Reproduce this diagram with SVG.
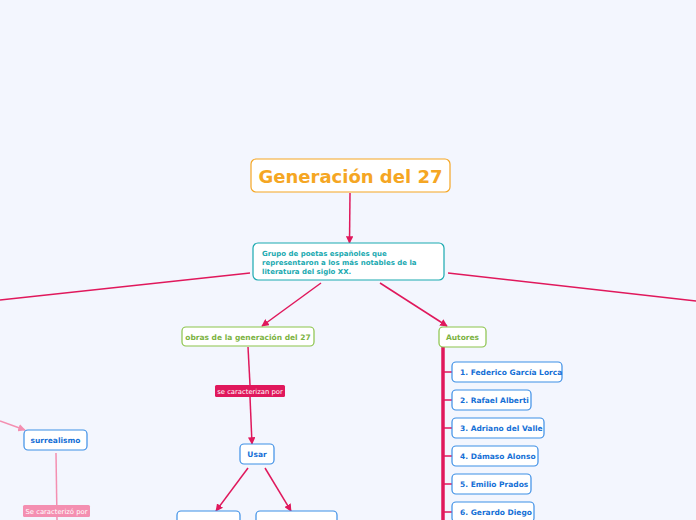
<svg xmlns="http://www.w3.org/2000/svg" width="696" height="520" viewBox="0 0 696 520">
<style>
text{font-family:"DejaVu Sans",Verdana,sans-serif;font-weight:bold}
.b{fill:#fff;stroke:#3d8fe6;stroke-width:1.2}
.bt{fill:#1570d6;font-size:7.5px}
.c{stroke:#e0185c;stroke-width:1.5;fill:none}
.p{stroke:#f48fb1;stroke-width:1.5;fill:none}
</style>
<defs>
<marker id="a" viewBox="0 0 10 10" refX="9" refY="5" markerWidth="5" markerHeight="5" orient="auto"><path d="M0,0L10,5L0,10z" fill="#e0185c"/></marker>
<marker id="ap" viewBox="0 0 10 10" refX="9" refY="5" markerWidth="5" markerHeight="5" orient="auto"><path d="M0,0L10,5L0,10z" fill="#f48fb1"/></marker>
</defs>
<rect width="696" height="520" fill="#f3f6fe"/>
<g id="connectors">
<line class="c" x1="350" y1="193" x2="349.5" y2="243" marker-end="url(#a)"/>
<line class="c" x1="250" y1="273" x2="0" y2="300"/>
<line class="c" x1="448" y1="273" x2="696" y2="301"/>
<line class="c" x1="321" y1="283" x2="262" y2="326" marker-end="url(#a)"/>
<line class="c" x1="380" y1="283" x2="447" y2="326" marker-end="url(#a)"/>
<line class="c" x1="248" y1="347" x2="250" y2="385"/>
<line class="c" x1="250" y1="397" x2="252" y2="444" marker-end="url(#a)"/>
<line class="c" x1="248" y1="468" x2="216" y2="511" marker-end="url(#a)"/>
<line class="c" x1="265" y1="468" x2="291" y2="511" marker-end="url(#a)"/>
<line stroke="#e0185c" stroke-width="3.5" x1="443" y1="347" x2="443" y2="520"/>
<path class="c" d="M443,372h9M443,400h9M443,428h9M443,456h9M443,484h9M443,512h9"/>
<line class="p" x1="0" y1="421" x2="25" y2="430" marker-end="url(#ap)"/>
<line class="p" x1="56" y1="453" x2="57" y2="520"/>
</g>
<g id="title"><rect x="251" y="159" width="199" height="33" rx="5" fill="#fff" stroke="#f5a623" stroke-width="1.2"/><text x="350.5" y="183" text-anchor="middle" font-size="18" fill="#f5a623">Generación del 27</text></g>
<g id="grupo"><rect x="253" y="243" width="191" height="37" rx="5" fill="#fff" stroke="#1aa9b0" stroke-width="1.2"/><text x="262" y="256" font-size="7" fill="#1aa9b0"><tspan x="262">Grupo de poetas españoles que</tspan><tspan x="262" dy="9">representaron a los más notables de la</tspan><tspan x="262" dy="9">literatura del siglo XX.</tspan></text></g>
<g id="obras"><rect x="182" y="327" width="132" height="19" rx="4" fill="#fff" stroke="#8bc34a" stroke-width="1.2"/><text x="248" y="339.5" text-anchor="middle" font-size="7.5" fill="#7cb342">obras de la generación del 27</text></g>
<g id="lbl1"><rect x="215" y="385" width="70" height="12" rx="1.5" fill="#e0185c"/><text x="250" y="394" text-anchor="middle" font-size="6.8" font-weight="normal" fill="#fff" style="font-weight:normal">se caracterizan por</text></g>
<g id="usar"><rect x="240" y="444" width="34" height="20" rx="4" class="b"/><text x="257" y="457" text-anchor="middle" class="bt">Usar</text></g>
<g id="hijo1"><rect x="177" y="511" width="63" height="20" rx="4" class="b"/></g>
<g id="hijo2"><rect x="256" y="511" width="81" height="20" rx="4" class="b"/></g>
<g id="autores"><rect x="439" y="327" width="47" height="20" rx="4" fill="#fff" stroke="#8bc34a" stroke-width="1.2"/><text x="462.5" y="340" text-anchor="middle" font-size="7.5" fill="#7cb342">Autores</text></g>
<g id="a1"><rect x="452" y="362" width="110" height="20" rx="4" class="b"/><text x="460" y="375" class="bt">1. Federico García Lorca</text></g>
<g id="a2"><rect x="452" y="390" width="79" height="20" rx="4" class="b"/><text x="460" y="403" class="bt">2. Rafael Alberti</text></g>
<g id="a3"><rect x="452" y="418" width="92" height="20" rx="4" class="b"/><text x="460" y="431" class="bt">3. Adriano del Valle</text></g>
<g id="a4"><rect x="452" y="446" width="86" height="20" rx="4" class="b"/><text x="460" y="459" class="bt">4. Dámaso Alonso</text></g>
<g id="a5"><rect x="452" y="474" width="79" height="20" rx="4" class="b"/><text x="460" y="487" class="bt">5. Emilio Prados</text></g>
<g id="a6"><rect x="452" y="502" width="82" height="20" rx="4" class="b"/><text x="460" y="515" class="bt">6. Gerardo Diego</text></g>
<g id="surrealismo"><rect x="24" y="430" width="63" height="20" rx="4" class="b"/><text x="55.5" y="443" text-anchor="middle" class="bt">surrealismo</text></g>
<g id="lbl2"><rect x="23" y="505" width="67" height="12" rx="1.5" fill="#f48fb1"/><text x="56.5" y="514" text-anchor="middle" font-size="6.8" fill="#fff" style="font-weight:normal">Se caracterizó por</text></g>
</svg>
